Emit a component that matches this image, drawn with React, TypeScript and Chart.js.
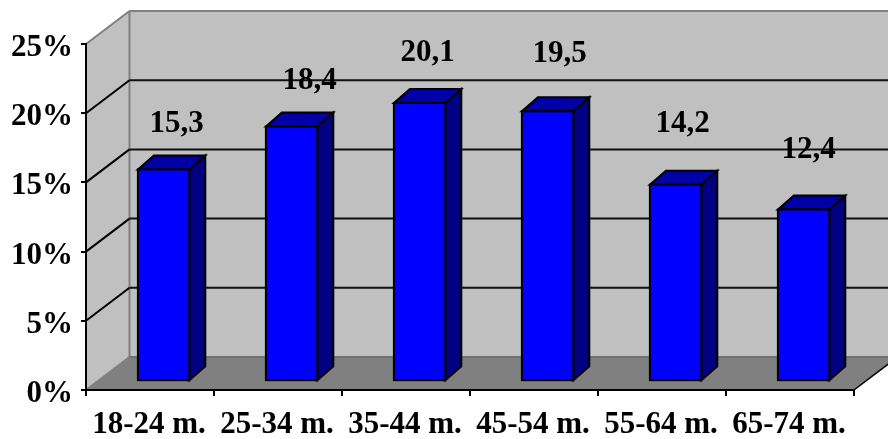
import React, { useEffect, useRef } from "react";
import { Chart, registerables } from "chart.js";

Chart.register(...registerables);

const categories = ["18-24 m.", "25-34 m.", "35-44 m.", "45-54 m.", "55-64 m.", "65-74 m."];
const shares = [15.3, 18.4, 20.1, 19.5, 14.2, 12.4];
const valueLabels = ["15,3", "18,4", "20,1", "19,5", "14,2", "12,4"];
const yTicks = [0, 5, 10, 15, 20, 25];

const FONT = '"Liberation Serif", serif';
const W = 888;
const H = 439;
const DEPTH_X = 43.5;
const DEPTH_Y = 33;
const BAR_SHIFT_X = 13.6;
const BAR_SHIFT_Y = 8.8;
const BAR_DX = 16;
const BAR_DY = 14;
// label offsets from each bar's centre/top as placed in the original
const labelNudgeX = [13, 18, 8, 12, 7, 5];
const labelLift = [45.5, 45.5, 50.5, 57.5, 60.5, 59.5];

function poly(ctx: CanvasRenderingContext2D, pts: number[][], fill: string | null, stroke: string | null, lw = 2) {
  ctx.beginPath();
  pts.forEach((p, i) => (i ? ctx.lineTo(p[0], p[1]) : ctx.moveTo(p[0], p[1])));
  ctx.closePath();
  if (fill) {
    ctx.fillStyle = fill;
    ctx.fill();
  }
  if (stroke) {
    ctx.strokeStyle = stroke;
    ctx.lineWidth = lw;
    ctx.lineJoin = "miter";
    ctx.stroke();
  }
}

function line(ctx: CanvasRenderingContext2D, a: number[], b: number[], color: string, lw = 2) {
  ctx.beginPath();
  ctx.moveTo(a[0], a[1]);
  ctx.lineTo(b[0], b[1]);
  ctx.strokeStyle = color;
  ctx.lineWidth = lw;
  ctx.stroke();
}

const box3d = {
  id: "box3d",
  beforeDraw(chart: any) {
    const { ctx, chartArea: a, scales } = chart;
    const l = a.left, r = a.right, t = a.top, b = a.bottom;
    const bl = l + DEPTH_X, br = r + DEPTH_X, bt = t - DEPTH_Y, bb = b - DEPTH_Y;
    ctx.save();
    poly(ctx, [[bl, bt], [br, bt], [br, bb], [bl, bb]], "#C0C0C0", null);
    poly(ctx, [[l, t], [bl, bt], [bl, bb], [l, b]], "#C0C0C0", null);
    poly(ctx, [[l, b], [r, b], [br, bb], [bl, bb]], "#808080", null);
    line(ctx, [bl, bt], [br, bt], "#808080", 2);
    line(ctx, [l, t], [bl, bt], "#808080", 2);
    line(ctx, [bl, bt], [bl, bb], "#808080", 2);
    line(ctx, [bl, bb], [br, bb], "#707070", 2);
    line(ctx, [l, b], [bl, bb], "#808080", 2);
    line(ctx, [r, b], [br, bb], "#000000", 1.5);
    for (const v of yTicks) {
      if (v === 0 || v === 25) continue;
      const y = scales.y.getPixelForValue(v);
      line(ctx, [l, y], [bl, y - DEPTH_Y], "#000000", 2);
      line(ctx, [bl, y - DEPTH_Y], [br, y - DEPTH_Y], "#111111", 2);
    }
    ctx.restore();
  },
  beforeDatasetsDraw(chart: any) {
    const { ctx } = chart;
    ctx.save();
    ctx.translate(BAR_SHIFT_X, -BAR_SHIFT_Y);
    chart.getDatasetMeta(0).data.forEach((el: any) => {
      const { x, y, base, width } = el.getProps(["x", "y", "base", "width"], true);
      const x1 = x + width / 2, x0 = x - width / 2;
      poly(ctx, [[x0, y], [x1, y], [x1 + BAR_DX, y - BAR_DY], [x0 + BAR_DX, y - BAR_DY]], "#0000A6", "#000000");
      poly(ctx, [[x1, y], [x1 + BAR_DX, y - BAR_DY], [x1 + BAR_DX, base - BAR_DY], [x1, base]], "#000080", "#000000");
    });
  },
  afterDatasetsDraw(chart: any) {
    const { ctx } = chart;
    chart.getDatasetMeta(0).data.forEach((el: any) => {
      const { x, y, base, width } = el.getProps(["x", "y", "base", "width"], true);
      ctx.strokeStyle = "#000000";
      ctx.lineWidth = 2;
      ctx.strokeRect(x - width / 2, y, width, base - y);
    });
    ctx.restore();
    ctx.save();
    ctx.font = `bold 31px ${FONT}`;
    ctx.fillStyle = "#000000";
    ctx.textAlign = "center";
    ctx.textBaseline = "middle";
    chart.getDatasetMeta(0).data.forEach((el: any, i: number) => {
      const { x, y } = el.getProps(["x", "y"], true);
      ctx.fillText(valueLabels[i], x + BAR_SHIFT_X + labelNudgeX[i], y - BAR_SHIFT_Y - labelLift[i]);
    });
    ctx.restore();
  },
};

export default function App() {
  const ref = useRef<HTMLCanvasElement>(null);
  useEffect(() => {
    const chart = new Chart(ref.current as HTMLCanvasElement, {
      type: "bar",
      data: {
        labels: categories,
        datasets: [
          {
            data: shares,
            backgroundColor: "#0000FF",
            borderWidth: 0,
            barThickness: 51.4,
            clip: false,
          } as any,
        ],
      },
      options: {
        animation: false,
        responsive: false,
        devicePixelRatio: 1,
        layout: { padding: { top: 44, right: W - 854, left: 0, bottom: 0 } },
        plugins: { legend: { display: false }, tooltip: { enabled: false }, title: { display: false } },
        scales: {
          x: {
            grid: { drawOnChartArea: false, color: "#000000", tickLength: 6, lineWidth: 2, offset: true } as any,
            border: { color: "#000000", width: 2 },
            ticks: { color: "#000000", font: { family: FONT, weight: "bold", size: 31 }, maxRotation: 0, autoSkip: false, padding: 10, labelOffset: -1 },
            afterFit(s: any) {
              s.height = H - 390;
            },
          },
          y: {
            min: 0,
            max: 25,
            grid: { drawOnChartArea: false, color: "#000000", tickLength: 5, lineWidth: 2 },
            border: { color: "#000000", width: 2 },
            ticks: {
              stepSize: 5,
              color: "#000000",
              padding: 8,
              labelOffset: 4,
              font: { family: FONT, weight: "bold", size: 31 },
              callback: (v: any) => `${v}%`,
            },
            afterFit(s: any) {
              s.width = 86;
            },
          },
        },
      },
      plugins: [box3d],
    } as any);
    return () => chart.destroy();
  }, []);
  return (
    <div style={{ position: "absolute", left: 0, top: 0, width: W, height: H, background: "#fff" }}>
      <canvas ref={ref} width={W} height={H} style={{ display: "block" }} />
    </div>
  );
}
